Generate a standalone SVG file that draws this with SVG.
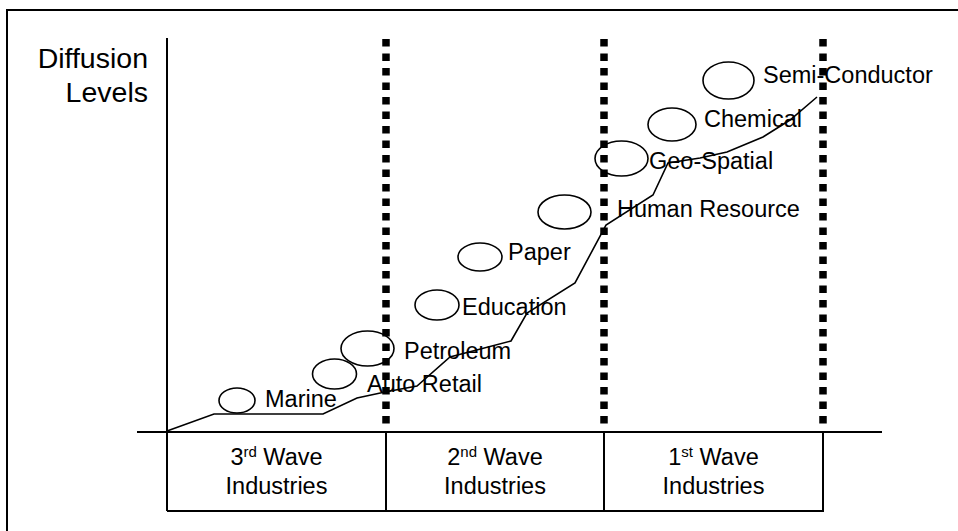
<svg xmlns="http://www.w3.org/2000/svg" width="958" height="531" viewBox="0 0 958 531">
  <style>
    text { font-family: "Liberation Sans", Arial, sans-serif; fill: #000; }
    .lbl { font-size: 23.5px; }
    .axis-title { font-size: 28.5px; text-anchor: end; }
    .wave { font-size: 23.5px; text-anchor: middle; }
    .sup { font-size: 15px; }
    .line { fill: none; stroke: #000; stroke-width: 2; }
    .bubble { fill: none; stroke: #000; stroke-width: 1.6; }
    .trend { fill: none; stroke: #000; stroke-width: 1.6; stroke-linejoin: miter; }
    .divider { fill: none; stroke: #000; stroke-width: 7.5; stroke-dasharray: 7.5 7; }
  </style>

  <rect width="958" height="531" fill="#fff"/>

  <!-- outer frame (top and left edges) -->
  <path class="line" d="M7 531 V10 H958"/>

  <!-- axis title -->
  <g id="axis-title">
    <text class="axis-title" x="148" y="68">Diffusion</text>
    <text class="axis-title" x="148" y="102">Levels</text>
  </g>

  <!-- axes and wave table -->
  <g id="axes">
    <path class="line" d="M167 38 V511"/>
    <path class="line" d="M137 432 H882"/>
    <path class="line" d="M167 511 H823 V432 M386 432 V511 M604 432 V511"/>
  </g>

  <g id="wave3">
    <text class="wave" x="276.5" y="465">3<tspan class="sup" dy="-8">rd</tspan><tspan dy="8"> Wave</tspan></text>
    <text class="wave" x="276.5" y="494">Industries</text>
  </g>
  <g id="wave2">
    <text class="wave" x="495" y="465">2<tspan class="sup" dy="-8">nd</tspan><tspan dy="8"> Wave</tspan></text>
    <text class="wave" x="495" y="494">Industries</text>
  </g>
  <g id="wave1">
    <text class="wave" x="713.5" y="465">1<tspan class="sup" dy="-8">st</tspan><tspan dy="8"> Wave</tspan></text>
    <text class="wave" x="713.5" y="494">Industries</text>
  </g>

  <!-- diffusion trend line -->
  <g id="connectors">
    <polyline class="trend" points="167,431 214,414 323,414 357,398 385,392 417,386 450,357 511,341 527,313 575,283 606,225 653,195 668,163 700,158 727,152 763,137 790,120 817,97"/>
  </g>

  <!-- industries -->
  <g id="marine">
    <ellipse class="bubble" cx="237" cy="400.5" rx="18" ry="12.5"/>
    <text class="lbl" x="265" y="407">Marine</text>
  </g>
  <g id="auto-retail">
    <ellipse class="bubble" cx="334.5" cy="374" rx="22" ry="15"/>
    <text class="lbl" x="367" y="392">Auto Retail</text>
  </g>
  <g id="petroleum">
    <ellipse class="bubble" cx="367.5" cy="348.5" rx="26.5" ry="17.5"/>
    <text class="lbl" x="404" y="359">Petroleum</text>
  </g>
  <g id="education">
    <ellipse class="bubble" cx="437" cy="305" rx="22" ry="15"/>
    <text class="lbl" x="462" y="315">Education</text>
  </g>
  <g id="paper">
    <ellipse class="bubble" cx="480" cy="257" rx="22" ry="14"/>
    <text class="lbl" x="508" y="260">Paper</text>
  </g>
  <g id="human-resource">
    <ellipse class="bubble" cx="564.5" cy="212" rx="26.5" ry="17"/>
    <text class="lbl" x="617" y="217">Human Resource</text>
  </g>
  <g id="geo-spatial">
    <ellipse class="bubble" cx="621.5" cy="158.5" rx="26.5" ry="17.5"/>
    <text class="lbl" x="649" y="169">Geo-Spatial</text>
  </g>
  <g id="chemical">
    <ellipse class="bubble" cx="672" cy="124.5" rx="24" ry="16.5"/>
    <text class="lbl" x="704" y="127">Chemical</text>
  </g>
  <g id="semi-conductor">
    <ellipse class="bubble" cx="728.5" cy="80.5" rx="25.5" ry="18.5"/>
    <text class="lbl" x="763" y="83">Semi-Conductor</text>
  </g>

  <!-- wave boundaries -->
  <g id="boundaries">
    <path class="divider" d="M386 39 V426"/>
    <path class="divider" d="M604 39 V426"/>
    <path class="divider" d="M823 39 V426"/>
  </g>
</svg>
